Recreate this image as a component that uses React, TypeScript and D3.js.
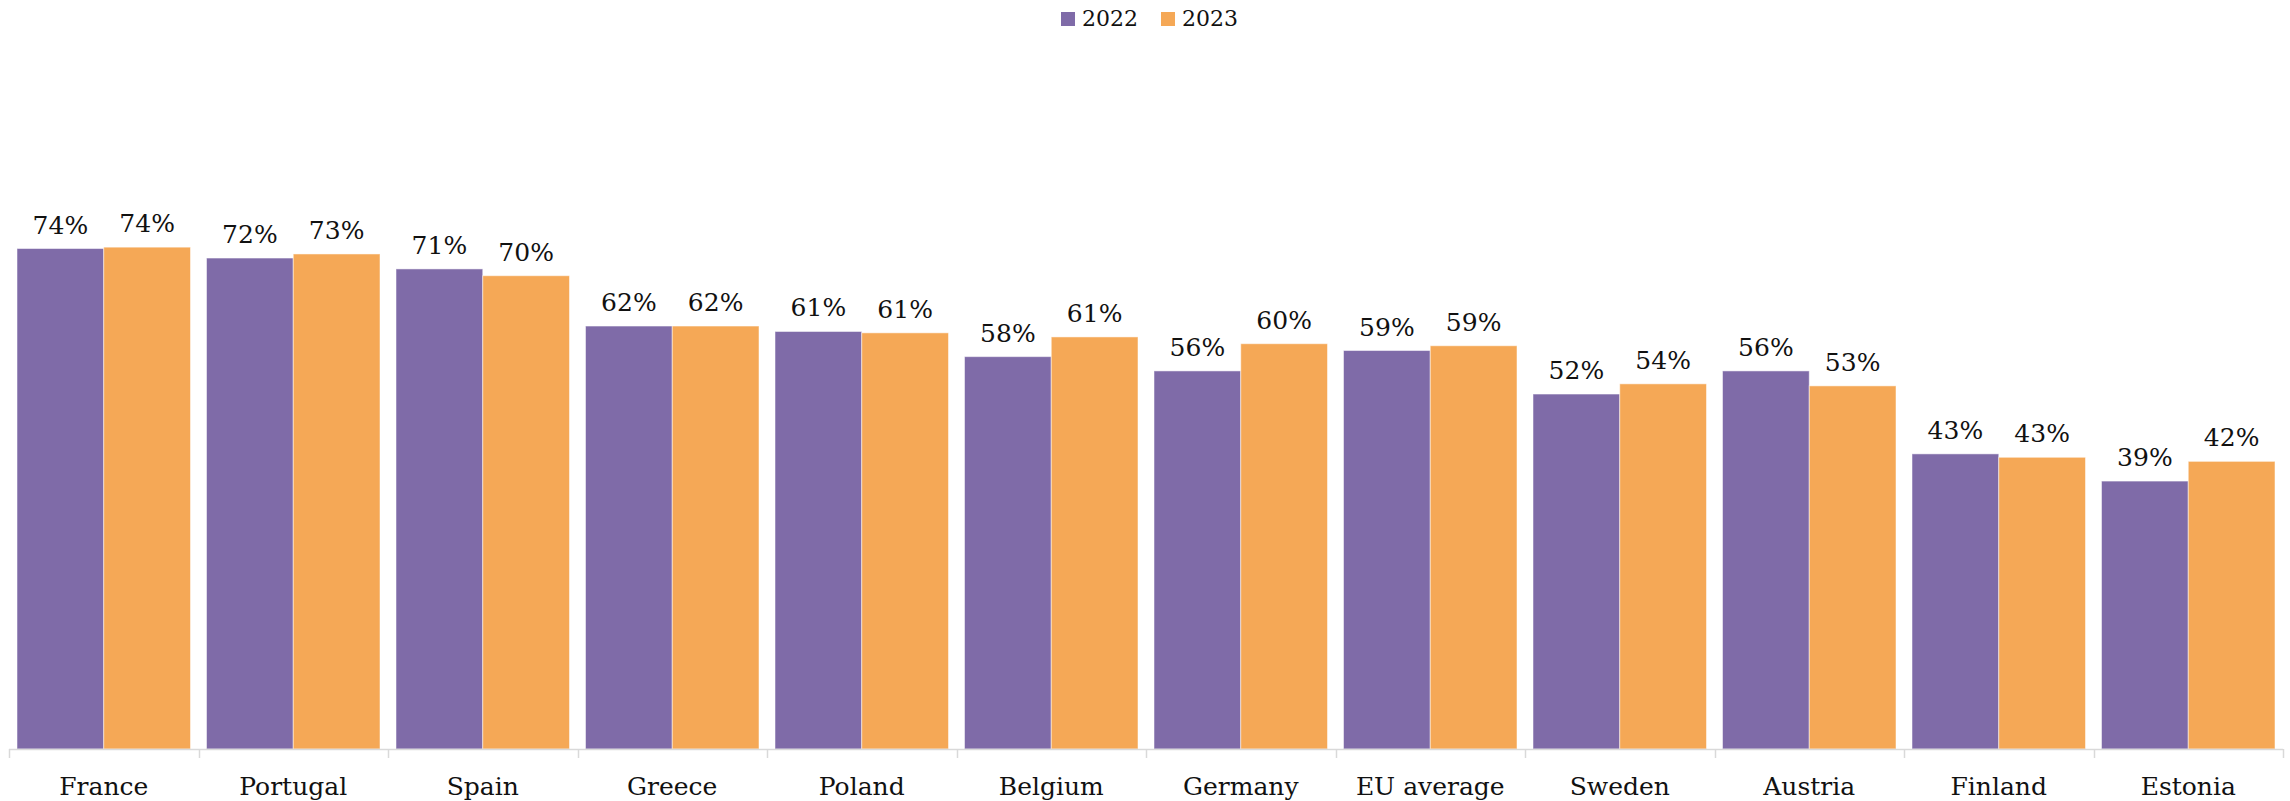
import React from "react";
import * as d3 from "d3";

const categories = ["France", "Portugal", "Spain", "Greece", "Poland", "Belgium", "Germany", "EU average", "Sweden", "Austria", "Finland", "Estonia"];
const series2022 = [73.6, 72.2, 70.6, 62.2, 61.4, 57.7, 55.6, 58.6, 52.2, 55.6, 43.4, 39.4];
const series2023 = [73.8, 72.8, 69.6, 62.2, 61.2, 60.6, 59.6, 59.3, 53.7, 53.4, 42.9, 42.3];
const seriesNames = ["2022", "2023"];
const colors = ["#7F6BA8", "#F5A856"];

const W = 2290;
const H = 801;
const FONT = "'DejaVu Serif', Georgia, serif";

export default function App() {
  const x = d3.scaleBand<string>().domain(categories).range([9, 2283]).padding(0);
  const step = x.step();
  const xi = d3.scaleBand<string>().domain(seriesNames).range([8, step - 8]).padding(0);
  const y = d3.scaleLinear().domain([0, 100]).range([749, 69]);
  const data = [series2022, series2023];

  return (
    <svg width={W} height={H} style={{ position: "absolute", left: 0, top: 0, background: "#fff" }} fontFamily={FONT}>
      {/* legend */}
      <g>
        <rect x={1061} y={12} width={14} height={14} fill={colors[0]} />
        <text x={1082} y={26} fontSize={22} fill="#111">{seriesNames[0]}</text>
        <rect x={1161} y={12} width={14} height={14} fill={colors[1]} />
        <text x={1182} y={26} fontSize={22} fill="#111">{seriesNames[1]}</text>
      </g>
      {/* bars */}
      {categories.map((c, i) => (
        <g key={c} transform={`translate(${x(c)},0)`}>
          {seriesNames.map((s, j) => {
            const v = data[j][i];
            const bx = xi(s)!;
            const bw = xi.bandwidth();
            return (
              <g key={s}>
                <rect x={bx} y={y(v)} width={bw} height={y(0) - y(v)} fill={colors[j]} stroke="#fff" strokeOpacity={0.5} strokeWidth={1} />
                <text x={bx + bw / 2} y={y(v) - 15} textAnchor="middle" fontSize={25} fill="#111">
                  {Math.round(v)}%
                </text>
              </g>
            );
          })}
          <text x={step / 2} y={795} textAnchor="middle" fontSize={25} fill="#111">{c}</text>
        </g>
      ))}
      {/* axis */}
      <line x1={9} x2={2283} y1={749.5} y2={749.5} stroke="#d9d9d9" strokeWidth={1.5} />
      {d3.range(categories.length + 1).map((k) => {
        const tx = Math.round(9 + k * step) + 0.5;
        return <line key={k} x1={tx} x2={tx} y1={749} y2={758} stroke="#d9d9d9" strokeWidth={1.5} />;
      })}
    </svg>
  );
}
